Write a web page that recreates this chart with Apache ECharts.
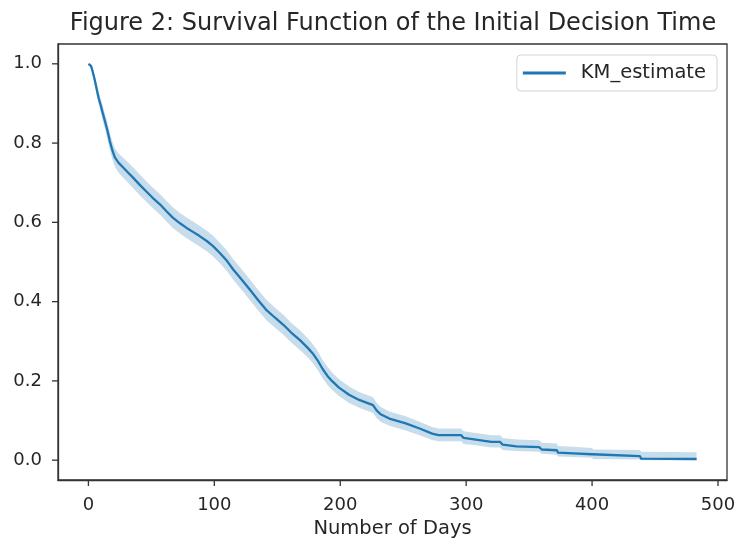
<!DOCTYPE html>
<html>
<head>
<meta charset="utf-8">
<style>
html,body{margin:0;padding:0;background:#fff;}
#chart{width:736px;height:542px;}
</style>
<script src="https://cdn.jsdelivr.net/npm/echarts@6/dist/echarts.min.js"></script>
</head>
<body>
<div id="chart"></div>
<script>
// Kaplan-Meier estimate (vertices of the drawn curve)
const days = [0,2,3,5,7,8,10,11,13,15,17,19,21,24,28,32,36,41,46,51,57,62,67,73,78,83,88,94,99,104,110,115,120,128,135,141,148,155,161,168,174,178,182,186,190,194,
  199,207,215,226,229,232,239,252,263,273,278,296,298,309,320,327,329,340,358,360,372,373,385,400,401,438,439,483];
const survival = [1.000,0.995,0.985,0.960,0.930,0.915,0.893,0.880,0.857,0.833,0.805,0.782,0.764,0.750,0.737,0.724,0.711,0.694,0.678,0.662,0.645,0.628,0.612,0.597,0.586,0.576,0.566,0.553,0.540,0.524,0.503,0.481,0.462,0.431,0.403,0.380,0.360,0.341,0.322,0.303,0.284,0.270,0.252,0.230,0.212,0.198,
  0.183,0.165,0.152,0.139,0.125,0.116,0.105,0.093,0.080,0.067,0.063,0.063,0.056,0.051,0.046,0.046,0.039,0.035,0.033,0.027,0.025,0.019,0.017,0.015,0.011,0.010,0.004,0.003];
const ciLower = [1.000,0.989,0.976,0.948,0.915,0.899,0.875,0.861,0.837,0.812,0.783,0.759,0.740,0.725,0.711,0.698,0.685,0.668,0.652,0.636,0.619,0.602,0.586,0.571,0.560,0.550,0.540,0.527,0.514,0.498,0.477,0.455,0.436,0.405,0.377,0.354,0.335,0.316,0.297,0.278,0.260,0.246,0.228,0.207,0.189,0.176,
  0.162,0.144,0.132,0.119,0.106,0.097,0.087,0.075,0.063,0.051,0.048,0.048,0.041,0.037,0.032,0.032,0.026,0.023,0.021,0.016,0.014,0.009,0.008,0.006,0.003,0.002,0.000,0.000];
const ciUpper = [1.000,1.000,0.993,0.971,0.944,0.930,0.910,0.898,0.876,0.853,0.826,0.804,0.787,0.774,0.762,0.750,0.737,0.720,0.704,0.688,0.671,0.654,0.638,0.623,0.612,0.602,0.592,0.579,0.566,0.550,0.529,0.507,0.488,0.457,0.429,0.406,0.385,0.366,0.347,0.328,0.308,0.294,0.276,0.253,0.235,0.220,
  0.204,0.186,0.172,0.159,0.144,0.135,0.123,0.111,0.097,0.084,0.080,0.080,0.073,0.068,0.063,0.063,0.056,0.052,0.050,0.044,0.042,0.036,0.034,0.031,0.027,0.026,0.021,0.020];
const xTicks = [0,100,200,300,400,500];
const yTicks = [0.0,0.2,0.4,0.6,0.8,1.0];

const X_MIN = -24.15, X_MAX = 507.15, Y_MIN = -0.05, Y_MAX = 1.05;

const lineColor = '#1f77b4';
const bandColor = 'rgba(31,119,180,0.25)';
const textColor = '#262626';
const frameColor = '#333333';
const font = 'DejaVu Sans';
const TICK_LEN = 6;

const kmData = days.map((d,i)=>[d, survival[i]]);
const bandData = days.map((d,i)=>[d, ciLower[i], ciUpper[i]]);

function renderBand(params, api) {
  if (params.dataIndex !== 0) return null;
  const upperPts = [], lowerPts = [];
  for (let i = 0; i < bandData.length; i++) {
    upperPts.push(api.coord([bandData[i][0], bandData[i][2]]));
    lowerPts.push(api.coord([bandData[i][0], bandData[i][1]]));
  }
  const pts = upperPts.concat(lowerPts.reverse());
  return {type: 'polygon', shape: {points: pts}, style: {fill: bandColor, stroke: null}};
}
function renderXTick(params, api) {
  const p = api.coord([api.value(0), Y_MIN]);
  return {type: 'line', shape: {x1: p[0], y1: p[1], x2: p[0], y2: p[1] + TICK_LEN},
          style: {stroke: frameColor, lineWidth: 1.3}};
}
function renderYTick(params, api) {
  const p = api.coord([X_MIN, api.value(1)]);
  return {type: 'line', shape: {x1: p[0] - TICK_LEN, y1: p[1], x2: p[0], y2: p[1]},
          style: {stroke: frameColor, lineWidth: 1.3}};
}

const axisLineStyle = {color: frameColor, width: 1.3};

const chart = echarts.init(document.getElementById('chart'), null, {renderer:'canvas'});
chart.setOption({
  animation: false,
  backgroundColor: '#ffffff',
  title: {
    text: 'Figure 2: Survival Function of the Initial Decision Time',
    left: 393, top: 12, padding: 0,
    textAlign: 'center',
    textStyle: {fontFamily: font, fontSize: 24, fontWeight: 'normal', color: textColor}
  },
  legend: {
    data: ['KM_estimate'],
    right: 19, top: 55,
    padding: [8, 11, 8, 6],
    icon: 'rect', itemWidth: 43, itemHeight: 3,
    backgroundColor: '#ffffff',
    borderColor: '#d4d4d4', borderWidth: 1, borderRadius: 4,
    textStyle: {fontFamily: font, fontSize: 19.5, color: textColor, padding: [0,0,0,10]}
  },
  grid: {
    left: 58, right: 9, top: 44, bottom: 62,
    show: true, borderColor: frameColor, borderWidth: 1.3,
    containLabel: false, outerBoundsMode: 'none'
  },
  xAxis: {
    type: 'value', min: X_MIN, max: X_MAX,
    name: 'Number of Days', nameLocation: 'middle', nameGap: 33,
    nameTextStyle: {fontFamily: font, fontSize: 19.5, color: textColor},
    axisLine: {show: true, onZero: false, lineStyle: axisLineStyle},
    splitLine: {show: false},
    axisTick: {show: false},
    axisLabel: {customValues: xTicks, margin: 16, fontFamily: font, fontSize: 18, color: textColor, formatter: v => String(v)}
  },
  yAxis: {
    type: 'value', min: Y_MIN, max: Y_MAX,
    axisLine: {show: true, onZero: false, lineStyle: axisLineStyle},
    splitLine: {show: false},
    axisTick: {show: false},
    axisLabel: {customValues: yTicks, margin: 16, fontFamily: font, fontSize: 18, color: textColor, formatter: v => v.toFixed(1)}
  },
  series: [
    {
      name: 'ci_band', type: 'custom', data: bandData,
      encode: {x: 0, y: [1, 2]},
      renderItem: renderBand, silent: true, z: 1, clip: true
    },
    {
      name: 'KM_estimate', type: 'line', data: kmData,
      showSymbol: false, symbol: 'none',
      itemStyle: {color: lineColor},
      lineStyle: {color: lineColor, width: 2.3, join: 'round'}, z: 3
    },
    {
      name: 'x_ticks', type: 'custom', data: xTicks.map(v => [v, Y_MIN]),
      encode: {x: 0, y: 1}, renderItem: renderXTick, silent: true, clip: false, z: 4
    },
    {
      name: 'y_ticks', type: 'custom', data: yTicks.map(v => [X_MIN, v]),
      encode: {x: 0, y: 1}, renderItem: renderYTick, silent: true, clip: false, z: 4
    }
  ]
});
</script>
</body>
</html>
